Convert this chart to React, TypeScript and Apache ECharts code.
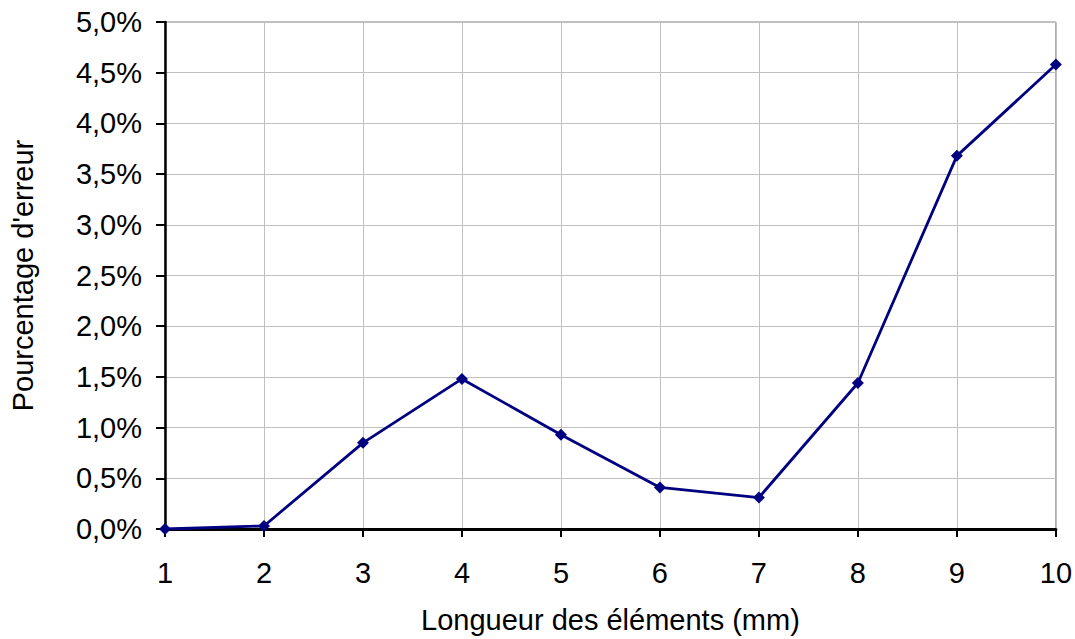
import React, { useEffect, useRef } from "react";
import * as echarts from "echarts";

const lengths = [1, 2, 3, 4, 5, 6, 7, 8, 9, 10];
const errorPct = [0.0, 0.03, 0.85, 1.48, 0.93, 0.41, 0.31, 1.44, 3.68, 4.58];
const xTitle = "Longueur des éléments (mm)";
const yTitle = "Pourcentage d'erreur";

export default function App() {
  const ref = useRef<HTMLDivElement>(null);
  useEffect(() => {
    if (!ref.current) return;
    const chart = echarts.init(ref.current, null, { renderer: "svg" });
    const font = "'Liberation Sans', Arial, sans-serif";
    chart.setOption({
      animation: false,
      textStyle: { fontFamily: font },
      grid: {
        left: 164,
        right: 19,
        top: 22,
        bottom: 109,
        show: true,
        borderColor: "#808080",
        borderWidth: 1,
        backgroundColor: "transparent",
      },
      xAxis: {
        type: "value",
        min: 1,
        max: 10,
        interval: 1,
        name: xTitle,
        nameLocation: "middle",
        nameGap: 76,
        nameTextStyle: { fontSize: 29, color: "#000", fontFamily: font },
        axisLine: { show: true, onZero: false, lineStyle: { color: "#000", width: 3 } },
        axisTick: { show: true, length: 8, lineStyle: { color: "#000", width: 2 } },
        axisLabel: { fontSize: 29, color: "#000", margin: 29, fontFamily: font },
        splitLine: { show: true, lineStyle: { color: "#c0c0c0", width: 1 } },
      },
      yAxis: {
        type: "value",
        min: 0,
        max: 5,
        interval: 0.5,
        name: yTitle,
        nameLocation: "middle",
        nameGap: 128,
        nameTextStyle: { fontSize: 29, color: "#000", fontFamily: font },
        axisLine: { show: true, lineStyle: { color: "#000", width: 2.5 } },
        axisTick: { show: true, length: 9, lineStyle: { color: "#000", width: 2 } },
        axisLabel: {
          fontSize: 29,
          color: "#000",
          margin: 23,
          fontFamily: font,
          formatter: (v: number) => v.toFixed(1).replace(".", ",") + "%",
        },
        splitLine: { show: true, lineStyle: { color: "#c0c0c0", width: 1 } },
      },
      series: [
        {
          type: "line",
          data: lengths.map((x, i) => [x, errorPct[i]]),
          symbol: "diamond",
          symbolSize: 12,
          lineStyle: { color: "#000080", width: 2.8 },
          itemStyle: { color: "#000080" },
          z: 5,
        },
      ],
    });
    return () => chart.dispose();
  }, []);
  return (
    <div
      ref={ref}
      style={{ position: "fixed", left: 0, top: 0, width: 1075, height: 639, background: "#fff" }}
    />
  );
}
